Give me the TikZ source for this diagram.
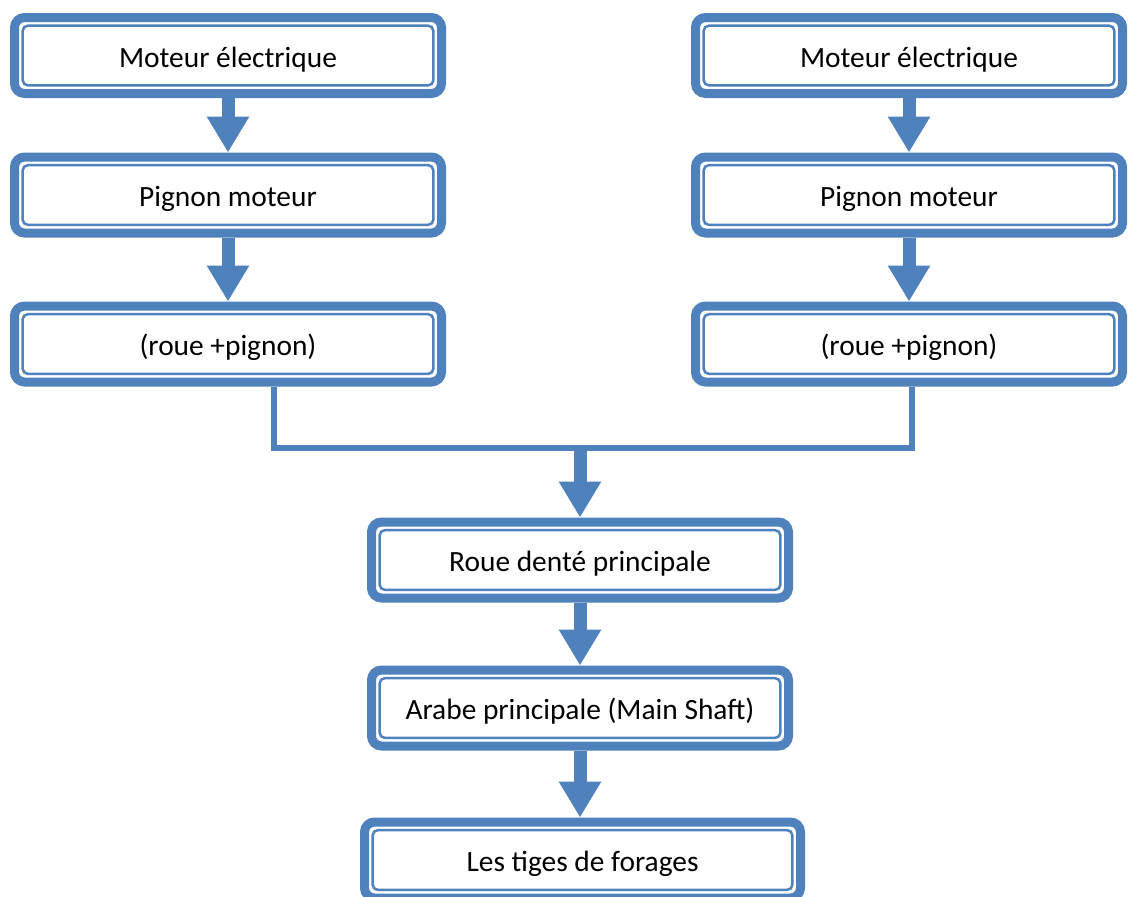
\documentclass[tikz,border=0pt]{standalone}
\usepackage{fontspec}
\setmainfont{Carlito}
\usetikzlibrary{positioning,arrows.meta,calc}
\definecolor{boxblue}{HTML}{4F81BD}
\tikzset{
    x=0.5pt,
    y=-0.5pt,
    box/.style = {
        draw=boxblue,
        shape=rectangle,
        rounded corners=5pt,
        minimum height=38pt,
        minimum width=213.5pt,
        line width=4.5pt,
        text height=14pt,
        text depth=2.5pt,
        font=\fontsize{14.7}{17}\selectfont,
        path picture={
            \draw[boxblue, line width=1.25pt, rounded corners=2.5pt]
                ([shift={(4.1pt,-4.1pt)}]path picture bounding box.north west) rectangle
                ([shift={(-4.1pt,4.1pt)}]path picture bounding box.south east);
        }
    },
    flow/.style = {
        draw=boxblue,
        line width=6.5pt,
        -{Triangle[width=20pt,length=18pt]}
    },
    link/.style = {
        draw=boxblue,
        line width=3pt
    },
}

\begin{document}
\begin{tikzpicture}
        \useasboundingbox (0,0) rectangle (1129,896);

        \node[box] (motorL) at (228,55.5) {Moteur électrique};
        \node[box] (pinionL) at (228,195) {Pignon moteur};
        \node[box] (wheelL) at (228,344) {(roue +pignon)};

        \node[box] (motorR) at (909,55.5) {Moteur électrique};
        \node[box] (pinionR) at (909,195) {Pignon moteur};
        \node[box] (wheelR) at (909,344) {(roue +pignon)};

        \node[box, minimum width=208.5pt] (mainwheel) at (580,560) {Roue denté principale};
        \node[box, minimum width=208.5pt] (mainshaft) at (580,708) {Arabe principale (Main Shaft)};
        \node[box, minimum width=218pt] (rods) at (582.5,860) {Les tiges de forages};
        \coordinate (junction) at (580,448);

        \path[flow] (motorL) -- (pinionL);
        \path[flow] (pinionL) -- (wheelL);
        \path[flow] (motorR) -- (pinionR);
        \path[flow] (pinionR) -- (wheelR);

        \path[link] ([xshift=23pt]wheelL.south) |- (junction) -| ([xshift=1.5pt]wheelR.south);

        \path[flow] ([yshift=1.5pt]junction) -- (mainwheel);
        \path[flow] (mainwheel) -- (mainshaft);
        \path[flow] (mainshaft.south) -- (mainshaft.south |- rods.north);
    \end{tikzpicture}
\end{document}
